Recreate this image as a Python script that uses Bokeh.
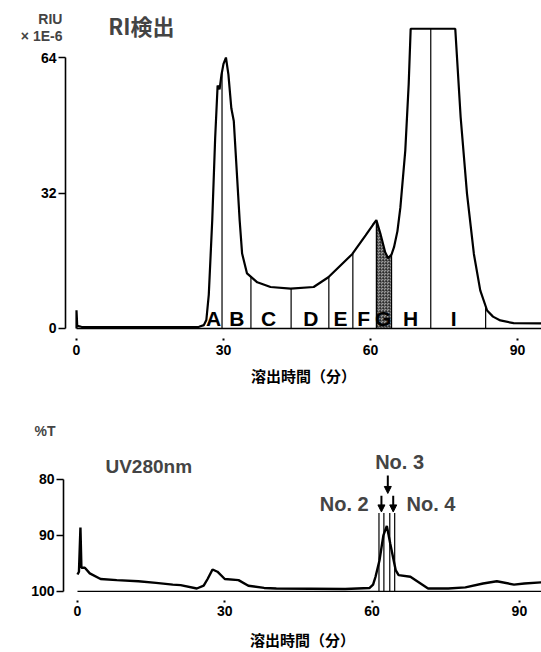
import numpy as np
from bokeh.plotting import figure
from bokeh.layouts import column
from bokeh.models import Range1d, FixedTicker, Label, Arrow, NormalHead
from bokeh.core.properties import value
from bokeh.embed import file_html
from bokeh.resources import INLINE

# ---------------- data ----------------
# RI detector chromatogram (time in min, RIU x1E-6)
ri_t = [0, 0, 0.15, 1, 10, 20, 25, 26, 26.5, 27, 27.7, 28.3, 28.8, 29.2, 29.6, 30.0, 30.5,
        31.0, 31.6, 32.1, 33.3, 33.8, 34.8, 36.9, 39.6, 43.7, 48.4, 51.4, 56.3, 59.0,
        60.5, 61.2, 62.0, 63.0, 63.6, 64.3, 64.8, 65.5, 66.1, 67.1, 67.8, 68.2, 77.3,
        78.4, 79.7, 81.1, 82.4, 83.8, 85.0, 86.5, 89.2, 94.9]
ri_v = [0, 4.3, 0.6, 0.4, 0.3, 0.3, 0.4, 0.8, 2, 8, 25.5, 45, 57.4, 56.5, 60, 62.5, 64,
        60, 52, 49, 25.5, 17.7, 13, 10.9, 9.8, 9.4, 9.8, 12.1, 17.6, 22,
        24.5, 25.6, 22.5, 18, 16.6, 17.5, 19.2, 23, 28.6, 42, 57.8, 70.8, 70.8,
        49.9, 31.8, 17.6, 9, 4.25, 2.8, 1.9, 1.25, 1.2]
frac_bounds = [29.7, 35.6, 43.8, 51.5, 56.4, 61.2, 64.3, 72.3, 83.5]
frac_labels = ["A", "B", "C", "D", "E", "F", "G", "H", "I"]
frac_label_t = [28.0, 32.7, 39.2, 47.8, 53.9, 58.6, 62.6, 68.2, 77.0]
g_range = [61.2, 64.3]
ri_ticks_x = [0, 30, 60, 90]
ri_ticks_y = [0, 32, 64]

# UV 280 nm chromatogram (%T)
uv_t = [0.0, 0.3, 0.6, 0.8, 1.5, 2.5, 4.7, 8, 12.4, 16, 19.4, 21, 24.3, 25.7, 26.5, 27.5,
        28.5, 30.0, 32.8, 34.8, 38, 40.5, 54.5, 59.5, 60.2, 60.7, 61.5, 62.3, 63.0, 63.7,
        64.8, 65.4, 67.8, 71.4, 75.5, 79, 82.6, 85.4, 88.9, 91, 94.5]
uv_v = [97.0, 96.5, 88.6, 95.8, 95.8, 96.8, 97.8, 98.0, 98.2, 98.5, 98.8, 98.9, 99.5, 99.0,
        97.8, 96.1, 96.5, 97.8, 98.0, 99.0, 99.4, 99.5, 99.6, 99.4, 98.8, 97.4, 94.5, 90.0,
        88.3, 91.5, 96.2, 97.1, 97.4, 99.5, 99.5, 99.3, 98.6, 98.2, 98.8, 98.6, 98.4]
uv_cuts = [61.4, 62.4, 63.6, 64.6]
uv_cut_top = 86.0
uv_ticks_x = [0, 30, 60, 90]
uv_ticks_y = [80, 90, 100]

LAT = "Liberation Sans"
JP = "Noto Sans CJK JP"


def style(p, xticks, yticks, xloc, yloc, xbounds, ybounds, tin, tout, lso, aso):
    p.outline_line_color = None
    p.xgrid.visible = False
    p.ygrid.visible = False
    p.background_fill_color = "white"
    p.border_fill_color = "white"
    p.min_border = 0
    ya = p.yaxis[0]
    ya.fixed_location = yloc
    ya.ticker = FixedTicker(ticks=yticks)
    ya.bounds = ybounds
    ya.major_tick_in = 0
    ya.major_tick_out = 7
    ya.minor_tick_line_color = None
    ya.axis_line_width = 1.6
    ya.major_tick_line_width = 1.6
    ya.major_label_standoff = 2
    ya.major_label_text_font = LAT
    ya.major_label_text_font_style = "bold"
    ya.major_label_text_font_size = "14px"
    ya.major_label_text_color = "black"
    xa = p.xaxis[0]
    xa.fixed_location = xloc
    xa.bounds = xbounds
    xa.ticker = FixedTicker(ticks=xticks)
    xa.axis_line_color = None
    xa.major_tick_in = tin
    xa.major_tick_out = tout
    xa.major_tick_line_width = 2
    xa.minor_tick_line_color = None
    xa.major_label_standoff = lso
    xa.major_label_text_font = LAT
    xa.major_label_text_font_style = "bold"
    xa.major_label_text_font_size = "14px"
    xa.major_label_text_color = "black"
    xa.axis_label = "溶出時間（分）"
    xa.axis_label_text_font = JP
    xa.axis_label_text_font_style = "bold"
    xa.axis_label_text_font_size = "15px"
    xa.axis_label_text_color = "black"
    xa.axis_label_standoff = aso


# ---------------- top: RI ----------------
p1 = figure(width=541, height=408, x_range=Range1d(-15.51, 94.9), y_range=Range1d(-18.9, 77.47),
            output_backend="svg", toolbar_location=None)
style(p1, ri_ticks_x, ri_ticks_y, 0, -2.24, (-2.24, 94.9), (0, 64), -10, 12, 5, 6)

# shaded fraction G
gt = np.linspace(g_range[0], g_range[1], 40)
gv = np.interp(gt, ri_t[1:], ri_v[1:])
p1.varea(x=gt, y1=np.zeros_like(gt), y2=gv, fill_color="#9a9a9a",
         hatch_pattern="criss_cross", hatch_color="black", hatch_alpha=0.6,
         hatch_scale=3, hatch_weight=0.6)

# baseline
p1.line(x=[ri_t[0], ri_t[-1]], y=[0, 0], line_color="black", line_width=1.5)
# fraction boundaries
fb = np.array(frac_bounds)
p1.segment(x0=fb, y0=np.zeros_like(fb), x1=fb, y1=np.interp(fb, ri_t[1:], ri_v[1:]),
           line_color="black", line_width=1.2)
# curve
p1.line(x=ri_t, y=ri_v, line_color="black", line_width=2.2)
# fraction letters
p1.text(x=frac_label_t, y=[2.4] * len(frac_labels), text=frac_labels,
        text_font=value(LAT), text_font_style="bold", text_font_size="21px",
        text_align="center", text_baseline="middle", text_color="black")

p1.add_layout(Label(x=-2.86, y=73.2, text="RIU", text_align="right", text_baseline="middle",
                    text_font=LAT, text_font_style="bold", text_font_size="14px"))
p1.add_layout(Label(x=-2.86, y=69.0, text="× 1E-6", text_align="right", text_baseline="middle",
                    text_font=LAT, text_font_style="bold", text_font_size="14px"))
p1.add_layout(Label(x=6.5, y=71.6, text="RI検出", text_align="left", text_baseline="middle",
                    text_font=JP, text_font_style="bold", text_font_size="22px"))

# ---------------- bottom: UV ----------------
p2 = figure(width=541, height=244, x_range=Range1d(-15.68, 94.5), y_range=Range1d(110.95, 67.3),
            output_backend="svg", toolbar_location=None)
style(p2, uv_ticks_x, uv_ticks_y, 100, -2.85, (-2.85, 94.5), (80, 100), -9, 11, 4, 9)

p2.line(x=[uv_t[0], uv_t[-1]], y=[100, 100], line_color="black", line_width=1.2)
uc = np.array(uv_cuts)
p2.segment(x0=uc, y0=np.full_like(uc, 100.0), x1=uc, y1=np.full_like(uc, uv_cut_top),
           line_color="black", line_width=1.2)
p2.line(x=uv_t, y=uv_v, line_color="black", line_width=2.4)

p2.add_layout(Label(x=-8.76, y=71.3, text="%T", text_align="left", text_baseline="middle",
                    text_font=LAT, text_font_style="bold", text_font_size="14px"))
p2.add_layout(Label(x=5.7, y=77.7, text="UV280nm", text_align="left", text_baseline="middle",
                    text_font=LAT, text_font_style="bold", text_font_size="19px"))
p2.add_layout(Label(x=65.6, y=76.8, text="No. 3", text_align="center", text_baseline="middle",
                    text_font=LAT, text_font_style="bold", text_font_size="20px"))
p2.add_layout(Label(x=59.3, y=84.4, text="No. 2", text_align="right", text_baseline="middle",
                    text_font=LAT, text_font_style="bold", text_font_size="20px"))
p2.add_layout(Label(x=67.0, y=84.4, text="No. 4", text_align="left", text_baseline="middle",
                    text_font=LAT, text_font_style="bold", text_font_size="20px"))
for xs, y0, y1 in [(63.2, 79.3, 82.5), (61.9, 82.9, 85.8), (64.3, 82.9, 85.8)]:
    p2.add_layout(Arrow(x_start=xs, y_start=y0, x_end=xs, y_end=y1, line_width=2,
                        end=NormalHead(size=7, fill_color="black", line_color="black")))

layout = column(p1, p2)
open("out.html", "w").write(file_html(layout, INLINE))
